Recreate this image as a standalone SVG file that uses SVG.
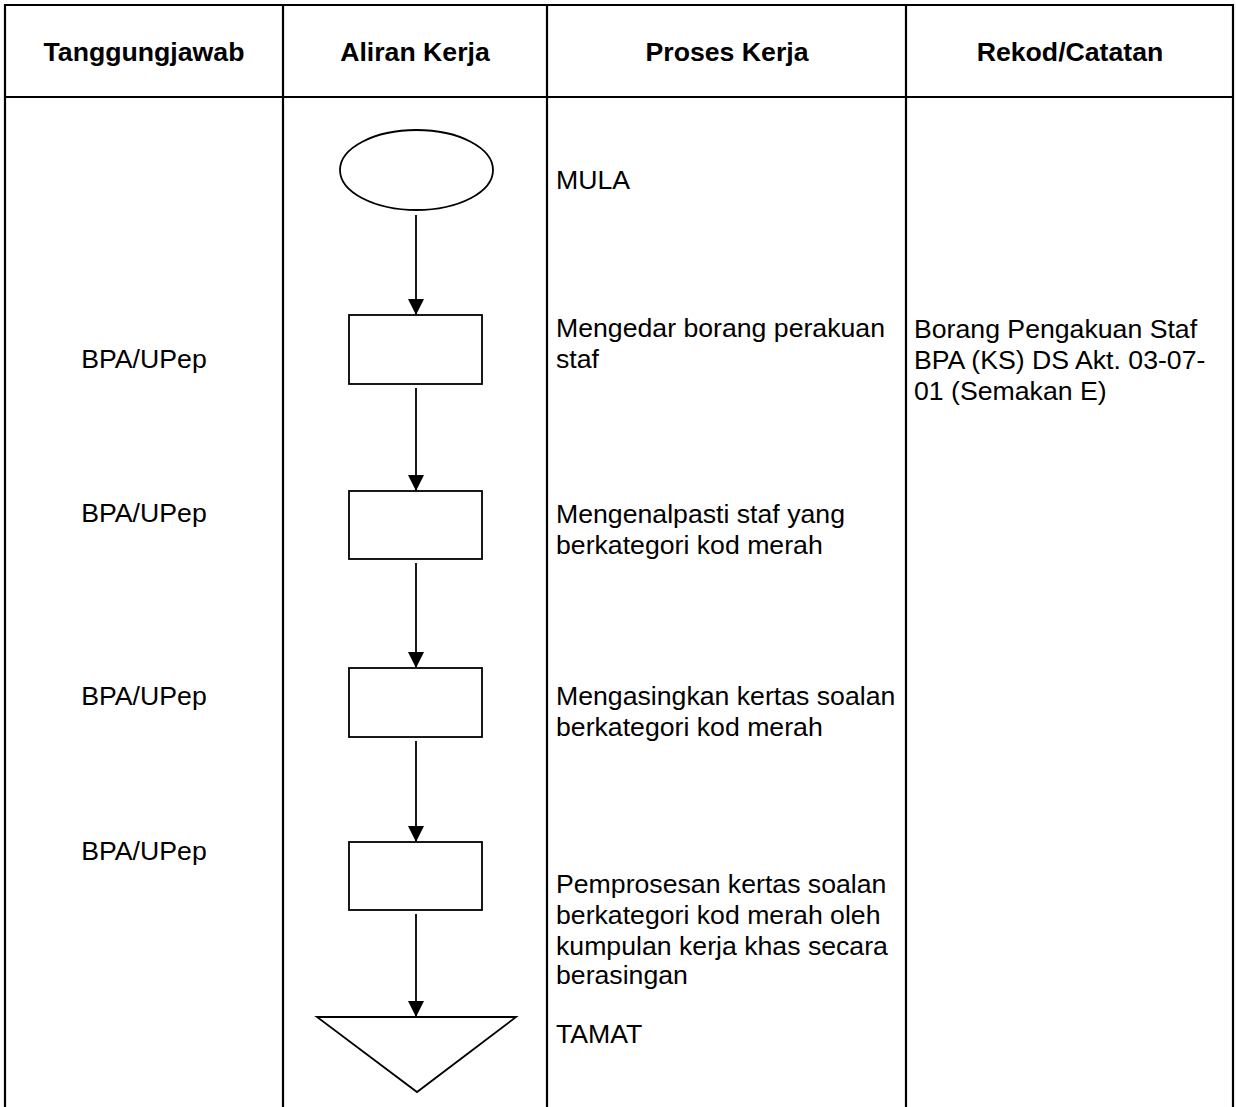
<svg xmlns="http://www.w3.org/2000/svg" width="1236" height="1107" viewBox="0 0 1236 1107">
  <style>
    .grid { stroke: #000; stroke-width: 2.2; fill: none; }
    .shape { stroke: #000; stroke-width: 1.8; fill: #fff; }
    .flow { stroke: #000; stroke-width: 1.8; fill: none; }
    .hd { font-family: "Liberation Sans", Arial, sans-serif; font-size: 26.67px; font-weight: bold; fill: #000; text-anchor: middle; }
    .tx { font-family: "Liberation Sans", Arial, sans-serif; font-size: 26.67px; fill: #000; }
    .mid { text-anchor: middle; }
  </style>
  <defs>
    <marker id="arrow" markerUnits="userSpaceOnUse" markerWidth="16" markerHeight="16" refX="16" refY="8" orient="auto">
      <path d="M0,0 L16,8 L0,16 Z" fill="#000"/>
    </marker>
  </defs>

  <rect width="1236" height="1107" fill="#fff"/>

  <!-- table grid -->
  <g id="table">
    <line class="grid" x1="5" y1="5" x2="1233" y2="5"/>
    <line class="grid" x1="5" y1="97" x2="1233" y2="97"/>
    <line class="grid" x1="5" y1="4" x2="5" y2="1107"/>
    <line class="grid" x1="283" y1="4" x2="283" y2="1107"/>
    <line class="grid" x1="547" y1="4" x2="547" y2="1107"/>
    <line class="grid" x1="906" y1="4" x2="906" y2="1107"/>
    <line class="grid" x1="1233" y1="4" x2="1233" y2="1107"/>
  </g>

  <!-- column headings -->
  <g id="headers">
    <text class="hd" x="144" y="61">Tanggungjawab</text>
    <text class="hd" x="415" y="61">Aliran Kerja</text>
    <text class="hd" x="727" y="61">Proses Kerja</text>
    <text class="hd" x="1070" y="61">Rekod/Catatan</text>
  </g>

  <!-- connectors -->
  <g id="connectors">
    <line class="flow" x1="416" y1="215" x2="416" y2="315" marker-end="url(#arrow)"/>
    <line class="flow" x1="416" y1="388" x2="416" y2="491" marker-end="url(#arrow)"/>
    <line class="flow" x1="416" y1="563" x2="416" y2="668" marker-end="url(#arrow)"/>
    <line class="flow" x1="416" y1="741" x2="416" y2="842" marker-end="url(#arrow)"/>
    <line class="flow" x1="416" y1="914" x2="416" y2="1017" marker-end="url(#arrow)"/>
  </g>

  <!-- start -->
  <g id="node-mula">
    <ellipse class="shape" cx="416.5" cy="170" rx="76.5" ry="40"/>
    <text class="tx" x="556" y="189">MULA</text>
  </g>

  <!-- step 1 -->
  <g id="node-edar">
    <rect class="shape" x="349" y="315" width="133" height="69"/>
    <text class="tx mid" x="144" y="368">BPA/UPep</text>
    <text class="tx" x="556" y="337">Mengedar borang perakuan</text>
    <text class="tx" x="556" y="368">staf</text>
    <text class="tx" x="914" y="338">Borang Pengakuan Staf</text>
    <text class="tx" x="914" y="369">BPA (KS) DS Akt. 03-07-</text>
    <text class="tx" x="914" y="400">01 (Semakan E)</text>
  </g>

  <!-- step 2 -->
  <g id="node-kenalpasti">
    <rect class="shape" x="349" y="491" width="133" height="68"/>
    <text class="tx mid" x="144" y="522">BPA/UPep</text>
    <text class="tx" x="556" y="523">Mengenalpasti staf yang</text>
    <text class="tx" x="556" y="554">berkategori kod merah</text>
  </g>

  <!-- step 3 -->
  <g id="node-asing">
    <rect class="shape" x="349" y="668" width="133" height="69"/>
    <text class="tx mid" x="144" y="705">BPA/UPep</text>
    <text class="tx" x="556" y="705">Mengasingkan kertas soalan</text>
    <text class="tx" x="556" y="736">berkategori kod merah</text>
  </g>

  <!-- step 4 -->
  <g id="node-proses">
    <rect class="shape" x="349" y="842" width="133" height="68"/>
    <text class="tx mid" x="144" y="860">BPA/UPep</text>
    <text class="tx" x="556" y="893">Pemprosesan kertas soalan</text>
    <text class="tx" x="556" y="924">berkategori kod merah oleh</text>
    <text class="tx" x="556" y="955">kumpulan kerja khas secara</text>
    <text class="tx" x="556" y="984">berasingan</text>
  </g>

  <!-- end -->
  <g id="node-tamat">
    <polygon class="shape" points="317,1017 516,1017 417,1092"/>
    <text class="tx" x="556" y="1043">TAMAT</text>
  </g>
</svg>
